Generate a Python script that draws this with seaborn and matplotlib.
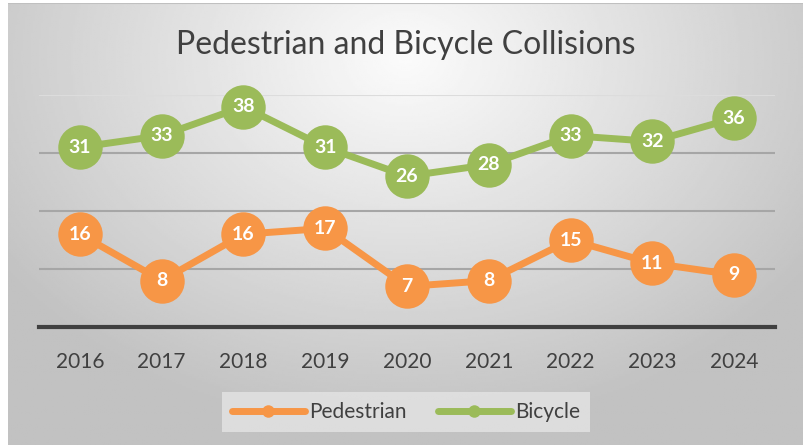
import numpy as np
import pandas as pd
import matplotlib
matplotlib.use("Agg")
import matplotlib.pyplot as plt
from matplotlib.lines import Line2D
import seaborn as sns

# datos del grafico
years = ["2016", "2017", "2018", "2019", "2020", "2021", "2022", "2023", "2024"]
pedestrian = [16, 8, 16, 17, 7, 8, 15, 11, 9]
bicycle = [31, 33, 38, 31, 26, 28, 33, 32, 36]
series_names = ["Pedestrian", "Bicycle"]
colores = ["#F79646", "#9BBB59"]

df = pd.DataFrame({
    "Year": years * 2,
    "Collisions": pedestrian + bicycle,
    "Serie": [series_names[0]] * len(years) + [series_names[1]] * len(years),
})

sns.set_style("white")
plt.rcParams["font.family"] = ["Lato", "DejaVu Sans"]

fig = plt.figure(figsize=(8.09, 4.48), dpi=100)
fig.patch.set_facecolor("white")

# fondo con degradado radial
bg = fig.add_axes([8 / 809, 3 / 448, 795 / 809, 442 / 448])
gx, gy = np.meshgrid(np.linspace(-1, 1, 400), np.linspace(-1, 1, 220))
dist = np.sqrt((gx / 1.1) ** 2 + ((gy + 0.75) / 1.5) ** 2)
tono = np.clip(0.985 - 0.2 * dist, 0.76, 0.985)
bg.imshow(tono, cmap="gray", vmin=0, vmax=1, aspect="auto", extent=[0, 1, 0, 1], origin="upper")
bg.set_axis_off()
bg.add_line(Line2D([0, 1], [1, 1], transform=bg.transAxes, color="#c0c0c0", lw=1.5))

ax = fig.add_axes([39 / 809, 1 - 327 / 448, 736 / 809, 232 / 448])
ax.patch.set_alpha(0)

sns.lineplot(data=df, x="Year", y="Collisions", hue="Serie", palette=colores,
             marker="o", markersize=32, markeredgewidth=0, linewidth=5,
             legend=False, ax=ax, zorder=3)
for ln in ax.lines:
    ln.set_clip_on(False)

for serie, valores in zip(series_names, [pedestrian, bicycle]):
    for i, v in enumerate(valores):
        ax.text(i, v, str(v), ha="center", va="center", color="white",
                fontsize=14, fontweight="bold", zorder=5)

ax.set_xlim(-0.5, len(years) - 0.5)
ax.set_ylim(0, 40)
ax.set_yticks([10, 20, 30, 40])
ax.set_yticklabels([])
ax.grid(axis="y", color="#a6a6a6", linewidth=1.5)
ax.get_ygridlines()[-1].set_color("#dcdcdc")
ax.set_axisbelow(True)
ax.tick_params(axis="x", length=0, pad=18, labelsize=15, labelcolor="#404040")
ax.tick_params(axis="y", length=0)
ax.set_xlabel("")
ax.set_ylabel("")
for s in ["top", "right", "left"]:
    ax.spines[s].set_visible(False)
ax.spines["bottom"].set_color("#404040")
ax.spines["bottom"].set_linewidth(3)

fig.text(406 / 809, 1 - 45 / 448, "Pedestrian and Bicycle Collisions",
         ha="center", va="center", fontsize=23, color="#404040")

handles = [Line2D([0], [0], color=c, lw=5, marker="o", markersize=9,
                  markeredgewidth=0) for c in colores]
leg = fig.legend(handles, series_names, loc="center", bbox_to_anchor=(406 / 809, 1 - 412 / 448),
                 ncol=2, frameon=True, fancybox=False, fontsize=15, handlelength=3.5,
                 columnspacing=1.5, handletextpad=0.2, borderpad=0.5)
leg.get_frame().set_facecolor("#e4e4e4")
leg.get_frame().set_edgecolor("none")
for t in leg.get_texts():
    t.set_color("#404040")

fig.savefig("out.png", dpi=100)
